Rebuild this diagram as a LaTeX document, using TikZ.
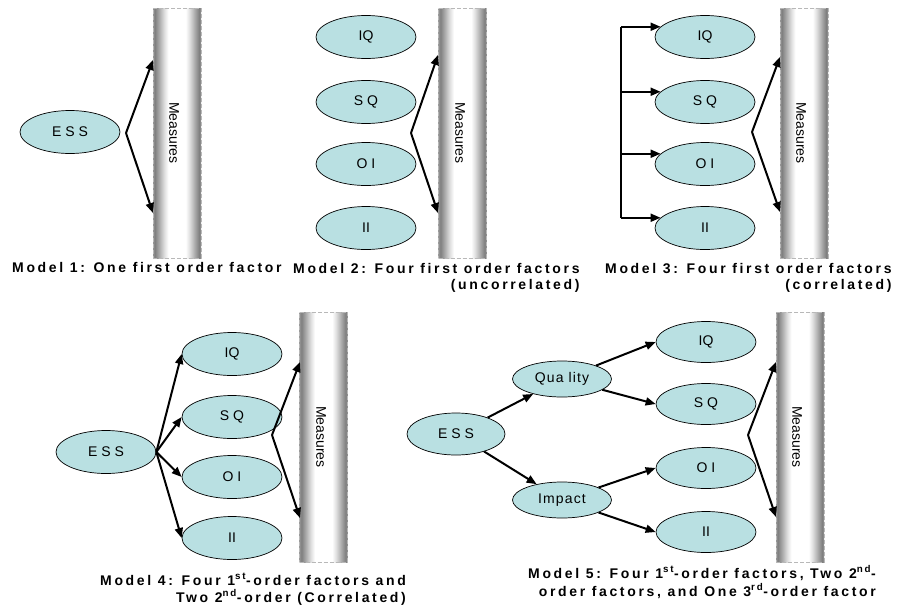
\documentclass[tikz,border=0pt]{standalone}
\usepackage{fontspec}
\setmainfont{Liberation Sans}
\newfontfamily\nodefont{Liberation Sans}
\newfontfamily\capfont[LetterSpace=19]{Liberation Sans}
\newfontfamily\lsfont[LetterSpace=8]{Liberation Sans}
\usetikzlibrary{shapes.geometric,arrows.meta}
\definecolor{facfill}{RGB}{185,224,226}
\pgfdeclarehorizontalshading{barshade}{100bp}{%
  color(0bp)=(black!42); color(25bp)=(black!42); color(27bp)=(black!50);
  color(31bp)=(black!35); color(37bp)=(black!12); color(41bp)=(white);
  color(59bp)=(white); color(63bp)=(black!12); color(69bp)=(black!35);
  color(73bp)=(black!50); color(75bp)=(black!42); color(100bp)=(black!42)}
\begin{document}
\begin{tikzpicture}[x=1pt,y=-1pt,
  fac/.style={ellipse,draw=black,line width=0.7pt,fill=facfill,minimum width=100pt,minimum height=43pt,inner sep=0pt,font={\nodefont\fontsize{14}{16}\selectfont}},
  sfac/.style={fac,minimum width=99pt,minimum height=36pt,font={\lsfont\fontsize{14}{16}\selectfont}},
  bar/.style={rectangle,draw=black!28,dash pattern=on 4pt off 2pt,line width=1pt,minimum width=48pt,minimum height=250pt,inner sep=0pt,shading=barshade},
  meas/.style={rotate=-90,inner sep=0pt,font={\nodefont\fontsize{14}{16}\selectfont}},
  arr/.style={-{Triangle[length=10pt,width=8pt]},line width=2pt},
  bracketline/.style={line width=2pt},
  captext/.style={inner sep=0pt,font={\capfont\bfseries\fontsize{14}{16}\selectfont}}]
\useasboundingbox (0,0) rectangle (902,608);

% ---------- Model 1
\node[bar] (b1) at (177,133) {};
\node[meas] (t1) at (174,133) {Measures};
\node[fac] (ess1) at (70,132) {E S S};
\coordinate (v1) at (126,133);
\coordinate (u1) at (153,60);
\coordinate (d1) at (153,213);
\draw[arr] (v1) -- (u1);
\draw[arr] (v1) -- (d1);
\node[captext,anchor=base west] (c1) at (12,272) {Model 1: One first order factor};

% ---------- Model 2
\node[bar] (b2) at (462.5,133) {};
\node[meas] (t2) at (460,133) {Measures};
\node[fac] (iq2) at (366,37) {IQ};
\node[fac] (sq2) at (366,102) {S Q};
\node[fac] (oi2) at (366,164) {O I};
\node[fac] (ii2) at (366,228) {II};
\coordinate (v2) at (411,133);
\coordinate (u2) at (438,55);
\coordinate (d2) at (438,213);
\draw[arr] (v2) -- (u2);
\draw[arr] (v2) -- (d2);
\node[captext,anchor=base west] (c2a) at (293,273) {Model 2: Four first order factors};
\node[captext,anchor=base east] (c2b) at (c2a.base east |- 0,289) {(uncorrelated)};

% ---------- Model 3
\node[bar] (b3) at (804,133) {};
\node[meas] (t3) at (801,133) {Measures};
\node[fac] (iq3) at (705,37) {IQ};
\node[fac] (sq3) at (705,102) {S Q};
\node[fac] (oi3) at (705,164) {O I};
\node[fac] (ii3) at (705,228) {II};
\coordinate (br3) at (621,0);
\draw[bracketline] (iq3.167 -| br3) -- (ii3.167 -| br3);
\draw[arr] (iq3.167 -| br3) -- (iq3.167);
\draw[arr] (sq3.167 -| br3) -- (sq3.167);
\draw[arr] (oi3.167 -| br3) -- (oi3.167);
\draw[arr] (ii3.167 -| br3) -- (ii3.167);
\coordinate (v3) at (752,132);
\coordinate (u3) at (780,57);
\coordinate (d3) at (780,212);
\draw[arr] (v3) -- (u3);
\draw[arr] (v3) -- (d3);
\node[captext,anchor=base west] (c3a) at (605,273) {Model 3: Four first order factors};
\node[captext,anchor=base east] (c3b) at (c3a.base east |- 0,289) {(correlated)};

% ---------- Model 4
\node[bar] (b4) at (323.5,437) {};
\node[meas] (t4) at (321,437) {Measures};
\node[fac] (ess4) at (106,452) {E S S};
\node[fac] (iq4) at (232,354) {IQ};
\node[fac] (sq4) at (232,417) {S Q};
\node[fac] (oi4) at (232,477) {O I};
\node[fac] (ii4) at (232,538) {II};
\draw[arr] (ess4.east) -- (iq4.west);
\draw[arr] (ess4.east) -- (sq4.west);
\draw[arr] (ess4.east) -- (oi4.west);
\draw[arr] (ess4.east) -- (ii4.west);
\coordinate (v4) at (272,435);
\coordinate (u4) at (300,362);
\coordinate (d4) at (300,518);
\draw[arr] (v4) -- (u4);
\draw[arr] (v4) -- (d4);
\node[captext,anchor=base west] (c4a) at (100,585) {Model 4: Four 1\textsuperscript{st}-order factors and};
\node[captext,anchor=base east] (c4b) at (c4a.base east |- 0,602) {Two 2\textsuperscript{nd}-order (Correlated)};

% ---------- Model 5
\node[bar] (b5) at (800,437) {};
\node[meas] (t5) at (797,437) {Measures};
\node[fac,minimum width=98pt,minimum height=42pt] (ess5) at (456,434) {E S S};
\node[sfac] (q5) at (562,379) {Qua lity};
\node[sfac] (im5) at (562,500) {Impact};
\node[fac,minimum height=41pt] (iq5) at (706,342) {IQ};
\node[fac,minimum height=41pt] (sq5) at (706,404) {S Q};
\node[fac,minimum height=41pt] (oi5) at (706,468) {O I};
\node[fac,minimum height=41pt] (ii5) at (706,532) {II};
\draw[arr] (ess5) -- (q5);
\draw[arr] (ess5) -- (im5);
\draw[arr] (q5) -- (iq5.west);
\draw[arr] (q5) -- (sq5.west);
\draw[arr] (im5) -- (oi5.west);
\draw[arr] (im5) -- (ii5.west);
\coordinate (v5) at (748,435);
\coordinate (u5) at (776,362);
\coordinate (d5) at (776,517);
\draw[arr] (v5) -- (u5);
\draw[arr] (v5) -- (d5);
\node[captext,anchor=base west] (c5a) at (528,578) {Model 5: Four 1\textsuperscript{st}-order factors, Two 2\textsuperscript{nd}-};
\node[captext,anchor=base east] (c5b) at (c5a.base east |- 0,596) {order factors, and One 3\textsuperscript{rd}-order factor};
\end{tikzpicture}
\end{document}
